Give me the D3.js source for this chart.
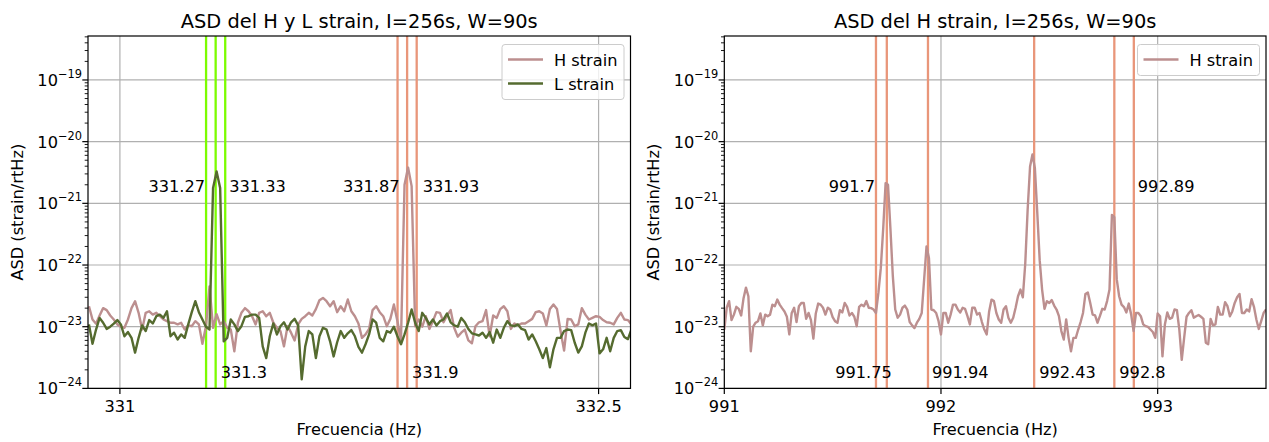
<!DOCTYPE html>
<html><head><meta charset="utf-8">
<script src="https://cdn.jsdelivr.net/npm/d3@7"></script>
<style>
body{margin:0;background:#fff}
svg{display:block}
text{font-family:'DejaVu Sans',sans-serif;fill:#000}
</style>
</head><body><svg id="c" width="1269" height="442"></svg>
<script>
// ---------------- DATA ----------------
const UNIT = 1e-23;               // ASD values below are in units of 1e-23 strain/rtHz
const freqStep = 1 / 90;          // frequency resolution (W = 90 s)
const leftFreqStart = 330.903;
const rightFreqStart = 991.0;

const leftHStrain = [2.15,1.31,1.12,1.52,2.0,1.86,1.52,1.31,1.09,1.0,0.96,1.31,2.0,2.59,1.68,0.90,1.68,1.78,1.57,1.68,
1.48,1.31,1.23,1.16,1.16,1.09,1.16,0.90,1.05,1.02,1.23,1.09,0.53,1.02,4.5,0.96,1.6,1.09,1.23,0.96,
0.9,0.4,1.16,1.68,2.0,1.78,1.48,1.09,1.68,1.78,1.48,1.68,1.16,0.96,0.85,0.48,1.02,0.80,0.60,1.09,
1.34,1.48,1.68,1.52,1.93,2.68,2.93,2.59,2.15,2.59,1.72,2.15,1.78,2.76,1.78,1.48,1.13,0.66,0.75,0.92,
1.86,2.15,1.72,1.48,1.02,1.34,2.29,1.23,0.6,200,380,190,1.02,1.31,1.0,1.48,0.92,1.23,1.72,1.68,
1.18,1.52,1.86,0.96,0.69,0.80,0.90,0.60,0.54,1.02,1.18,1.23,1.86,0.70,1.52,1.39,1.93,2.15,1.78,0.92,
1.13,1.05,1.13,1.13,1.23,1.34,1.72,1.78,1.64,1.05,1.93,2.29,1.93,0.85,0.41,1.34,1.31,1.02,1.09,2.0,
1.57,1.31,1.39,1.48,1.44,1.28,1.18,1.16,1.09,1.39,1.68,1.31,1.28,1.09];

const leftLStrain = [1.09,0.53,0.90,1.39,1.16,0.92,1.0,1.12,1.28,1.09,0.70,0.82,0.66,0.38,0.66,1.05,0.85,1.28,1.13,1.48,
1.57,1.39,1.78,0.70,0.80,0.62,0.75,0.66,1.09,1.72,2.59,1.72,1.31,1.0,0.9,178,328,178,0.58,0.66,
1.31,1.09,0.85,1.02,1.44,1.48,1.57,1.57,1.39,0.48,0.31,0.70,1.13,0.75,1.02,1.18,0.90,1.18,1.34,1.05,
0.14,0.48,0.85,0.75,0.31,0.70,0.96,0.90,0.58,0.33,0.56,0.85,0.66,0.78,0.88,0.70,0.47,0.38,0.52,0.75,
1.31,1.16,0.66,0.58,0.85,0.80,1.0,0.70,0.52,0.75,1.16,1.9,1.16,0.85,1.68,1.39,1.09,1.31,1.05,1.23,
1.31,1.64,1.18,1.05,1.0,1.39,1.18,0.92,0.78,0.75,0.72,0.80,0.66,0.82,0.55,0.90,0.66,0.96,1.23,1.05,
1.02,1.09,0.92,0.88,0.62,0.75,0.58,0.43,0.31,0.45,0.22,0.43,0.66,0.66,0.85,0.90,0.88,0.55,0.38,0.48,
0.80,1.13,1.05,1.13,0.37,0.43,0.66,0.40,0.66,0.85,0.88,0.68,0.63,0.90];

const rightHStrain = [0.90,2.03,2.6,1.28,1.57,2.1,1.95,1.52,2.9,4.3,3.12,0.40,1.0,1.16,1.23,1.64,1.05,1.57,1.48,1.57,
2.28,2.15,2.75,2.28,2.0,1.77,1.45,0.75,1.67,2.03,1.19,2.15,2.43,2.43,1.34,1.67,1.28,0.64,1.64,2.37,
2.28,2.03,1.57,2.03,1.9,1.43,1.23,1.16,1.85,1.7,2.43,2.1,1.52,1.67,1.45,1.02,2.1,2.28,2.15,2.6,
2.03,2.0,1.9,1.67,3.53,8.9,39,213,200,39,6.6,1.9,1.4,1.57,2.03,2.2,1.9,1.19,1.05,0.95,
1.16,1.34,1.67,5.8,20,13,1.9,1.85,1.67,1.23,0.75,1.67,1.67,1.16,1.57,2.28,2.28,1.9,1.7,2.03,
1.95,1.48,1.09,2.03,2.03,1.57,1.67,1.19,0.9,0.75,1.77,2.75,2.6,1.67,1.31,1.16,1.9,2.15,1.4,1.16,
1.4,2.03,3.12,4.0,3.0,10.5,79,395,620,372,70,12,4.0,1.95,2.6,2.43,2.7,2.2,1.9,1.48,
0.85,0.62,1.31,0.66,0.40,0.66,0.66,0.9,1.19,1.67,3.4,3.6,2.43,1.57,1.52,1.16,1.48,1.95,1.9,2.6,
4.0,65,60,5.9,3.12,2.28,2.08,1.7,2.37,1.57,0.85,1.67,1.67,1.48,1.09,1.02,0.99,0.90,0.82,0.66,
1.64,1.48,0.33,1.09,1.7,1.34,1.4,1.9,1.85,0.90,0.29,0.66,1.45,1.67,1.85,1.4,1.48,1.55,1.45,1.34,
0.55,0.52,1.34,1.05,1.09,2.1,1.57,1.57,2.5,2.15,1.48,1.77,2.43,3.0,3.4,1.67,1.67,1.9,1.77,2.8,
2.1,1.31,0.92,1.23,1.67,1.9];

const leftXTicks = [331, 332.5];
const rightXTicks = [991, 992, 993];
const yTickExponents = [-24, -23, -22, -21, -20, -19];
const leftGreenLines = [331.27, 331.3, 331.33];
const leftSalmonLines = [331.87, 331.9, 331.93];
const rightSalmonLines = [991.7, 991.75, 991.94, 992.43, 992.8, 992.89];
const leftLabels = [
  {f: 331.27, row: 'top', side: 'end', dx: -1},
  {f: 331.33, row: 'top', side: 'start', dx: 4},
  {f: 331.3,  row: 'bottom', side: 'start', dx: 5},
  {f: 331.87, row: 'top', side: 'end', dx: 2},
  {f: 331.93, row: 'top', side: 'start', dx: 6},
  {f: 331.9,  row: 'bottom', side: 'start', dx: 5}
];
const rightLabels = [
  {f: 991.7,  row: 'top', side: 'end', dx: -1},
  {f: 992.89, row: 'top', side: 'start', dx: 4},
  {f: 991.75, row: 'bottom', side: 'end', dx: 5},
  {f: 991.94, row: 'bottom', side: 'start', dx: 4},
  {f: 992.43, row: 'bottom', side: 'start', dx: 5},
  {f: 992.8,  row: 'bottom', side: 'start', dx: 5}
];
const labelRowValue = {top: 1.5e-21, bottom: 1.5e-24};

// ---------------- STYLE ----------------
const C_H = '#bc8f8f', C_L = '#556b2f', C_GREEN = '#7cfc00', C_SALMON = '#e9967a';
const FS_TICK = 16.2, FS_SUP = 11.4, FS_TITLE = 19.4;
const Y0 = 36, Y1 = 388.4;
const yDomain = [1e-24, 5.16e-19];

const svg = d3.select('#c');

function addText(g, x, y, str, size, anchor) {
  return g.append('text')
    .attr('x', x).attr('y', y)
    .attr('text-anchor', anchor || 'start')
    .style('font-size', size + 'px')
    .text(str);
}

function toSeries(vals, f0) {
  return vals.map((v, i) => ({f: f0 + i * freqStep, v: v * UNIT}));
}

function drawPanel(cfg, idx) {
  const x = d3.scaleLinear().domain(cfg.domain).range([cfg.x0, cfg.x1]);
  const y = d3.scaleLog().domain(yDomain).range([Y1, Y0]);
  const g = svg.append('g');

  const clipId = 'clip' + idx;
  svg.append('clipPath').attr('id', clipId).append('rect')
    .attr('x', cfg.x0).attr('y', Y0).attr('width', cfg.x1 - cfg.x0).attr('height', Y1 - Y0);

  // grid
  const grid = g.append('g').attr('clip-path', `url(#${clipId})`);
  cfg.xTicks.forEach(t => grid.append('line')
    .attr('x1', x(t)).attr('x2', x(t)).attr('y1', Y0).attr('y2', Y1)
    .attr('stroke', '#b0b0b0').attr('stroke-width', 1.2));
  yTickExponents.forEach(k => grid.append('line')
    .attr('x1', cfg.x0).attr('x2', cfg.x1).attr('y1', y(Math.pow(10, k))).attr('y2', y(Math.pow(10, k)))
    .attr('stroke', '#b0b0b0').attr('stroke-width', 1.2));

  // vertical reference lines
  const plot = g.append('g').attr('clip-path', `url(#${clipId})`);
  cfg.vlines.forEach(vl => vl.freqs.forEach(f => plot.append('line')
    .attr('x1', x(f)).attr('x2', x(f)).attr('y1', Y0).attr('y2', Y1)
    .attr('stroke', vl.color).attr('stroke-width', 2.3)));

  // series
  const line = d3.line().x(d => x(d.f)).y(d => y(d.v));
  cfg.series.forEach(s => plot.append('path')
    .datum(toSeries(s.values, cfg.f0))
    .attr('d', line).attr('fill', 'none')
    .attr('stroke', s.color).attr('stroke-width', 2.4)
    .attr('stroke-linejoin', 'round'));

  // annotations
  cfg.labels.forEach(l => addText(g, x(l.f) + l.dx, y(labelRowValue[l.row]), String(l.f), FS_TICK, l.side));

  // spines
  g.append('rect').attr('x', cfg.x0).attr('y', Y0)
    .attr('width', cfg.x1 - cfg.x0).attr('height', Y1 - Y0)
    .attr('fill', 'none').attr('stroke', '#000').attr('stroke-width', 1.2);

  // x ticks
  cfg.xTicks.forEach(t => {
    g.append('line').attr('x1', x(t)).attr('x2', x(t)).attr('y1', Y1).attr('y2', Y1 + 5.7)
      .attr('stroke', '#000').attr('stroke-width', 1.2);
    addText(g, x(t), Y1 + 23.5, String(t), FS_TICK, 'middle');
  });

  // y ticks (major + minor)
  yTickExponents.forEach(k => {
    const v = Math.pow(10, k);
    g.append('line').attr('x1', cfg.x0 - 5.7).attr('x2', cfg.x0).attr('y1', y(v)).attr('y2', y(v))
      .attr('stroke', '#000').attr('stroke-width', 1.2);
    for (let m = 2; m <= 9; m++) {
      const mv = m * v;
      if (mv > yDomain[1]) break;
      g.append('line').attr('x1', cfg.x0 - 3.3).attr('x2', cfg.x0).attr('y1', y(mv)).attr('y2', y(mv))
        .attr('stroke', '#000').attr('stroke-width', 0.9);
    }
    const t = g.append('text')
      .attr('x', cfg.x0 - 6).attr('y', y(v) + 6)
      .attr('text-anchor', 'end').style('font-size', FS_TICK + 'px');
    t.append('tspan').text('10');
    t.append('tspan').attr('dy', -8).style('font-size', FS_SUP + 'px').text('\u2212' + Math.abs(k));
  });

  // axis labels
  addText(g, (cfg.x0 + cfg.x1) / 2, 435, 'Frecuencia (Hz)', FS_TICK, 'middle');
  g.append('text')
    .attr('transform', `translate(${cfg.x0 - 65},${(Y0 + Y1) / 2}) rotate(-90)`)
    .attr('text-anchor', 'middle').style('font-size', FS_TICK + 'px')
    .text('ASD (strain/rtHz)');

  // title
  addText(g, (cfg.x0 + cfg.x1) / 2, 28, cfg.title, FS_TITLE, 'middle');

  // legend
  const n = cfg.series.length;
  const lw = 122, lh = 8 + n * 24 - 1;
  const lx = cfg.x1 - 6.5 - lw, ly = Y0 + 8.5;
  const lg = g.append('g');
  lg.append('rect').attr('x', lx).attr('y', ly).attr('width', lw).attr('height', lh)
    .attr('rx', 3).attr('fill', '#fff').attr('fill-opacity', 0.8)
    .attr('stroke', '#cccccc').attr('stroke-width', 1);
  cfg.series.forEach((s, i) => {
    const cy = ly + 15 + i * 24;
    lg.append('line').attr('x1', lx + 6).attr('x2', lx + 41).attr('y1', cy).attr('y2', cy)
      .attr('stroke', s.color).attr('stroke-width', 2.4);
    addText(lg, lx + 52, cy + 6, s.name, FS_TICK, 'start');
  });
}

drawPanel({
  x0: 88, x1: 630.5, domain: [330.9, 332.6], f0: leftFreqStart,
  xTicks: leftXTicks,
  title: 'ASD del H y L strain, I=256s, W=90s',
  vlines: [{freqs: leftGreenLines, color: C_GREEN}, {freqs: leftSalmonLines, color: C_SALMON}],
  series: [{name: 'H strain', values: leftHStrain, color: C_H}, {name: 'L strain', values: leftLStrain, color: C_L}],
  labels: leftLabels
}, 0);

drawPanel({
  x0: 724.3, x1: 1266, domain: [991, 993.5], f0: rightFreqStart,
  xTicks: rightXTicks,
  title: 'ASD del H strain, I=256s, W=90s',
  vlines: [{freqs: rightSalmonLines, color: C_SALMON}],
  series: [{name: 'H strain', values: rightHStrain, color: C_H}],
  labels: rightLabels
}, 1);
</script>
</body></html>
